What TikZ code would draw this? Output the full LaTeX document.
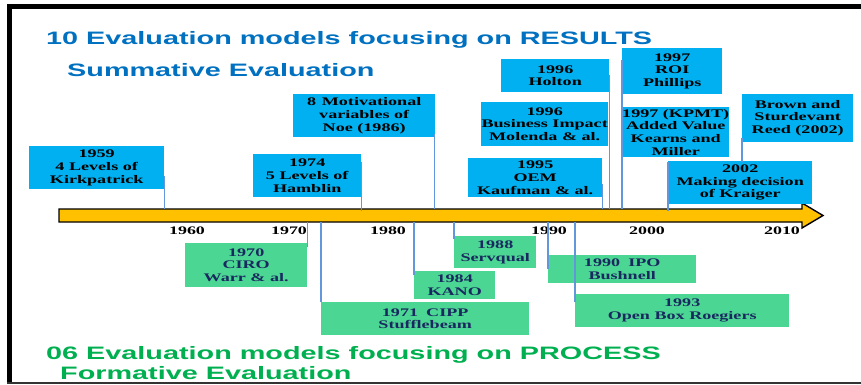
\documentclass[tikz,border=0pt]{standalone}
\usepackage{fontspec}
\newfontfamily\boxfont[FakeStretch=1.56]{Liberation Serif}
\newfontfamily\titlefont[FakeStretch=1.6]{Liberation Sans}
\definecolor{titleblue}{RGB}{0,112,192}
\definecolor{titlegreen}{RGB}{0,176,80}
\definecolor{cyanbox}{RGB}{0,176,240}
\definecolor{greenbox}{RGB}{76,214,148}
\definecolor{navytext}{RGB}{25,40,95}
\definecolor{connblue}{RGB}{100,150,220}
\definecolor{axisfill}{RGB}{255,192,0}
\begin{document}
\begin{tikzpicture}[x=1pt,y=-1pt,
  boxtext/.style={inner sep=0pt, align=center, anchor=north west,
    font=\boxfont\bfseries\fontsize{11.6}{12.7}\selectfont},
  cbox/.style={boxtext, fill=cyanbox, text=black},
  gbox/.style={boxtext, fill=greenbox, text=navytext},
  conn/.style={draw=connblue, line width=1.6pt},
  yearlbl/.style={inner sep=0pt, anchor=base, text=black,
    font=\boxfont\bfseries\fontsize{11.5}{12.5}\selectfont},
  titletext/.style={inner sep=0pt, anchor=base west,
    font=\titlefont\bfseries\fontsize{18}{20}\selectfont}]
\useasboundingbox (0,0) rectangle (861,384);
% frame
\fill[black] (7,4) rectangle (861,9);
\fill[black] (7,4) rectangle (12,383);
\draw[black!80, line width=1.2pt] (7,383) -- (861,383);

% titles
\node[titletext, text=titleblue] (t1) at (46,44) {10 Evaluation models focusing on RESULTS};
\node[titletext, text=titleblue] (t2) at (67,76) {Summative Evaluation};
\node[titletext, text=titlegreen] (t3) at (46,359) {06 Evaluation models focusing on PROCESS};
\node[titletext, text=titlegreen] (t4) at (60,379) {Formative Evaluation};

% axis arrow
\draw[fill=axisfill, draw=black, line width=1.4pt, line join=miter]
  (59,209) -- (802,209) -- (802,203) -- (823,215.5) -- (802,228) -- (802,222) -- (59,222) -- cycle;
\coordinate (axT) at (0,209);
\coordinate (axB) at (0,222);

% year labels
\node[yearlbl] (y60) at (187,234) {1960};
\node[yearlbl] (y70) at (289,234) {1970};
\node[yearlbl] (y80) at (388,234) {1980};
\node[yearlbl] (y90) at (549,234) {1990};
\node[yearlbl] (y00) at (647,234) {2000};
\node[yearlbl] (y10) at (782,234) {2010};

% results (cyan) boxes
\node[cbox, minimum width=135pt, minimum height=43pt] (kirk) at (29,146) {1959\\4 Levels of\\Kirkpatrick};
\node[cbox, minimum width=108pt, minimum height=43pt] (hamb) at (253,154) {1974\\5 Levels of\\Hamblin};
\node[cbox, minimum width=142pt, minimum height=43pt] (noe) at (293,94) {8\hspace{0.5em}Motivational\\variables of\\Noe (1986)};
\node[cbox, minimum width=108pt, minimum height=33pt] (holt) at (501,59) {1996\\Holton};
\node[cbox, minimum width=127pt, minimum height=44pt] (busi) at (481,102) {1996\\Business Impact\\Molenda \& al.};
\node[cbox, minimum width=134pt, minimum height=39pt] (oem) at (468,158) {1995\\OEM\\Kaufman \& al.};
\node[cbox, minimum width=100pt, minimum height=46pt] (roi) at (622,48) {1997\\ROI\\Phillips};
\node[cbox, minimum width=107pt, minimum height=50pt] (kpmt) at (622,107) {1997 (KPMT)\\Added Value\\Kearns and\\Miller};
\node[cbox, minimum width=111pt, minimum height=48pt] (brown) at (742,94) {Brown and\\Sturdevant\\Reed (2002)};
\node[cbox, minimum width=144pt, minimum height=43pt] (krai) at (668,161) {2002\\Making decision\\of Kraiger};

% process (green) boxes
\node[gbox, minimum width=122pt, minimum height=44pt] (ciro) at (185,243) {1970\\CIRO\\Warr \& al.};
\node[gbox, minimum width=208pt, minimum height=33pt] (cipp) at (321,302) {1971\hspace{0.7em}CIPP\\Stufflebeam};
\node[gbox, minimum width=81pt, minimum height=28pt] (kano) at (414,271) {1984\\KANO};
\node[gbox, minimum width=82pt, minimum height=32pt] (serv) at (454,236) {1988\\Servqual};
\node[gbox, minimum width=148pt, minimum height=28pt] (ipo) at (548,255) {1990\hspace{0.7em}IPO\\Bushnell};
\node[gbox, minimum width=214pt, minimum height=33pt] (obox) at (575,294) {1993\\Open Box Roegiers};

% connectors above the axis
\draw[conn] ([yshift=13pt]kirk.south east) -- (kirk.south east |- axT);
\draw[conn] ([yshift=35pt]hamb.south east) -- ([yshift=-2pt]hamb.south east |- axT);
\draw[conn] ([yshift=3pt]noe.south east) ++(-1,0) -- ([xshift=-1pt]noe.south east |- axT);
\draw[conn] ([yshift=-16pt]holt.north east) -- (holt.north east |- axT);
\draw[conn] ([yshift=13pt]oem.south east) -- (oem.south east |- axT);
\draw[conn] ([yshift=-12pt]roi.north west) -- (roi.north west |- axT);
\draw[conn] ([yshift=4pt]brown.south west) -- ([yshift=-1pt]brown.south west |- krai.north);
\draw[conn] ([yshift=-1pt]krai.north west) -- ([yshift=-2pt]krai.north west |- axT);

% connectors below the axis
\draw[conn] (ciro.north east |- axB) -- ([yshift=-4pt]ciro.north east);
\draw[conn] (cipp.north west |- axB) -- (cipp.north west);
\draw[conn] (kano.north west |- axB) -- ([yshift=-4pt]kano.north west);
\draw[conn] (serv.north west |- axB) -- ([yshift=-3pt]serv.north west);
\draw[conn] (ipo.north west |- axB) -- ([yshift=-14pt]ipo.north west);
\draw[conn] (obox.north west |- axB) -- ([yshift=-8pt]obox.north west);
\end{tikzpicture}
\end{document}
